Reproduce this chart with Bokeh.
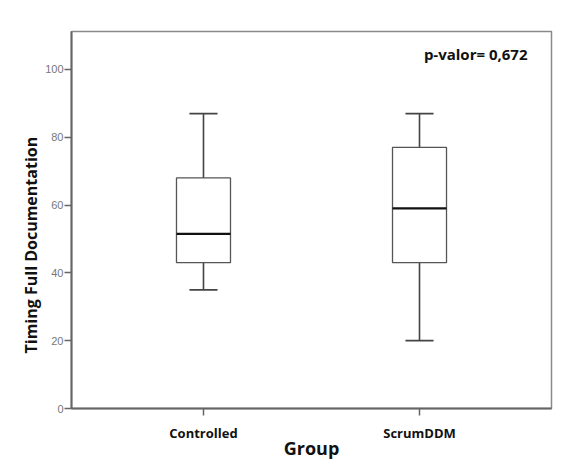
from bokeh.plotting import figure
from bokeh.models import Title, FixedTicker
from bokeh.embed import file_html
from bokeh.resources import INLINE

groups = ["Controlled", "ScrumDDM"]
whisker_low = [35, 20]
q1 = [43, 43]
median = [51.5, 59]
q3 = [68, 77]
whisker_high = [87, 87]
y_ticks = [0, 20, 40, 60, 80, 100]
p_text = "p-valor= 0,672"

xs = list(range(len(groups)))
bw = 0.125
cw = 0.065

p = figure(width=555, height=462, output_backend="svg", toolbar_location=None,
           x_range=(-0.611, 1.611), y_range=(0, 111.2),
           min_border_left=71, min_border_right=4, min_border_top=31, min_border_bottom=54)
p.grid.visible = False
p.outline_line_color = "#8a8a8a"
p.outline_line_width = 1.5

# whiskers
p.segment(x0=xs, y0=q3, x1=xs, y1=whisker_high, line_color="#444", line_width=1.6)
p.segment(x0=xs, y0=whisker_low, x1=xs, y1=q1, line_color="#444", line_width=1.6)
p.segment(x0=[x - cw for x in xs], y0=whisker_high, x1=[x + cw for x in xs], y1=whisker_high,
          line_color="#444", line_width=1.8)
p.segment(x0=[x - cw for x in xs], y0=whisker_low, x1=[x + cw for x in xs], y1=whisker_low,
          line_color="#444", line_width=1.8)
# boxes
p.quad(left=[x - bw for x in xs], right=[x + bw for x in xs], bottom=q1, top=q3,
       fill_color="white", line_color="#555", line_width=1.3)
# medians
p.segment(x0=[x - bw for x in xs], y0=median, x1=[x + bw for x in xs], y1=median,
          line_color="#111", line_width=2.2)

# axes
p.yaxis.ticker = FixedTicker(ticks=y_ticks)
p.xaxis.ticker = FixedTicker(ticks=xs)
p.xaxis.major_label_overrides = {i: g for i, g in enumerate(groups)}
for ax in (p.xaxis, p.yaxis):
    ax.axis_line_color = "#666"
    ax.axis_line_width = 2
    ax.major_tick_line_color = "#666"
    ax.major_tick_line_width = 1.5
    ax.major_tick_in = 0
    ax.major_tick_out = 7
    ax.minor_tick_line_color = None
p.yaxis.major_label_text_font = "Liberation Sans"
p.yaxis.major_label_text_font_size = "11px"
p.yaxis.major_label_text_color = "#777"
p.yaxis.major_label_standoff = 1
p.xaxis.major_label_text_font = "Open Sans"
p.xaxis.major_label_text_font_style = "bold"
p.xaxis.major_label_text_font_size = "13px"
p.xaxis.major_label_text_color = "#111"
p.xaxis.major_label_standoff = 8
p.xaxis.axis_label = "Group"
p.xaxis.axis_label_text_font = "Open Sans"
p.xaxis.axis_label_text_font_style = "bold"
p.xaxis.axis_label_text_font_size = "18px"
p.xaxis.axis_label_text_color = "#111"
p.xaxis.axis_label_standoff = -9

ytitle = Title(text="Timing Full Documentation", align="left", offset=55,
               text_font="Open Sans", text_font_style="bold", text_font_size="16px",
               text_color="#111", standoff=2)
p.add_layout(ytitle, "left")

p.text(x=[1.50], y=[104.7], text=[p_text], text_font={"value": "Open Sans"},
       text_font_style="bold", text_font_size="15px", text_color="#111",
       text_align="right", text_baseline="middle")

open("out.html", "w").write(file_html(p, INLINE))
